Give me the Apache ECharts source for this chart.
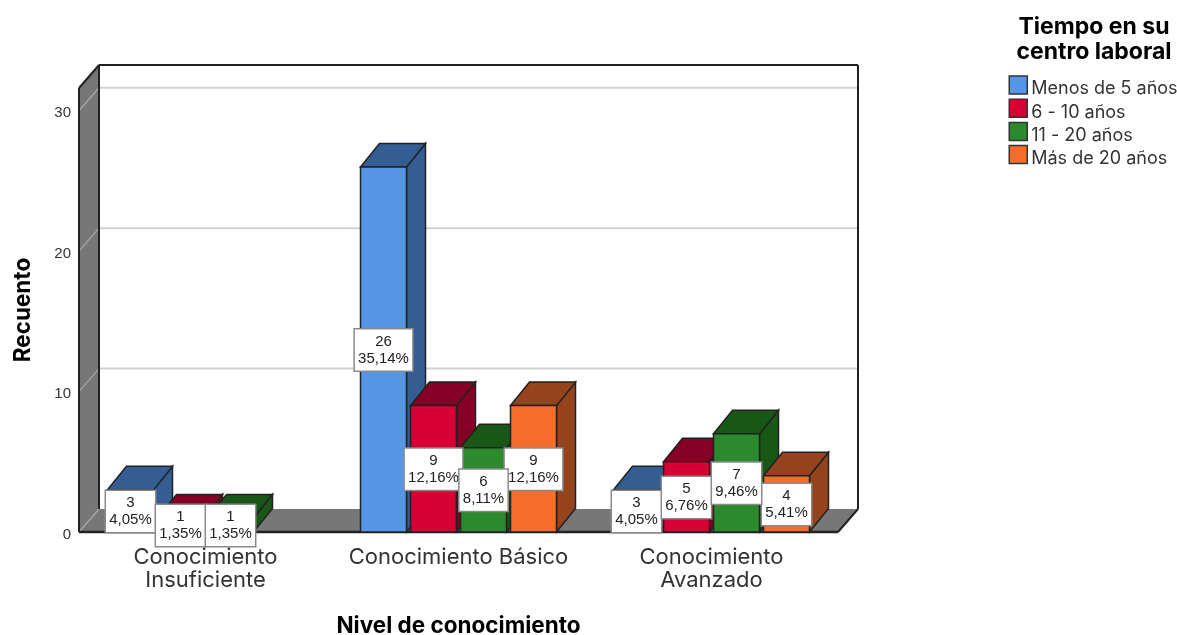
<!DOCTYPE html>
<html><head><meta charset="utf-8">
<style>html,body{margin:0;padding:0;background:#fff}#c{width:1177px;height:635px}</style>
<script src="https://cdn.jsdelivr.net/npm/echarts@6/dist/echarts.min.js"></script>
</head><body><div id="c"></div>
<script>
const categories = ['Conocimiento\nInsuficiente', 'Conocimiento Básico', 'Conocimiento\nAvanzado'];
const groupNames = ['Menos de 5 años', '6 - 10 años', '11 - 20 años', 'Más de 20 años'];
const menos5 = [3, 26, 3];
const de6a10 = [1, 9, 5];
const de11a20 = [1, 6, 7];
const mas20 = [null, 9, 4];
const pctMenos5 = ['4,05%', '35,14%', '4,05%'];
const pct6a10 = ['1,35%', '12,16%', '6,76%'];
const pct11a20 = ['1,35%', '8,11%', '9,46%'];
const pctMas20 = [null, '12,16%', '5,41%'];
const yTicks = [10, 20, 30];

const groupValues = [menos5, de6a10, de11a20, mas20];
const groupPct = [pctMenos5, pct6a10, pct11a20, pctMas20];
const frontColors = ['#5596E6', '#D60032', '#2A8A2D', '#F46D2A'];
const darkColors = ['#345D93', '#850024', '#195716', '#95431C'];
const labelOrder = [0, 1, 3, 2];
const font = 'Inter, "Liberation Sans", Arial, sans-serif';
const numFont = '"Liberation Sans", Arial, sans-serif';
const ink = '#222';
const wallDx = 20, wallDy = 23, barDx = 19, barDy = 23.5;
const stepFrac = 50 / 253, widthFrac = 46 / 253;

function barGeom(api, k) {
  const cat = api.value(0), val = api.value(1);
  const base = api.coord([cat, 0]), top = api.coord([cat, val]);
  const band = api.size([1, 0])[0];
  const step = band * stepFrac, w = band * widthFrac;
  const left = base[0] + (k - 2) * step + (step - w) / 2;
  return { left, right: left + w, bottom: base[1], top: top[1], mid: left + w / 2 };
}
function poly(points, fill, stroke, lw) {
  return { type: 'polygon', shape: { points }, style: { fill, stroke: stroke || ink, lineWidth: lw === undefined ? 1.5 : lw } };
}
function line(a, b, stroke, lw) {
  return { type: 'line', shape: { x1: a[0], y1: a[1], x2: b[0], y2: b[1] }, style: { stroke, lineWidth: lw } };
}
function renderWalls(params, api) {
  const cs = params.coordSys;
  const x0 = cs.x, x1 = cs.x + cs.width, yb = cs.y + cs.height, yt = cs.y;
  const ch = [];
  ch.push(poly([[x0 + wallDx, yt - wallDy], [x1 + wallDx, yt - wallDy], [x1 + wallDx, yb - wallDy], [x0 + wallDx, yb - wallDy]], '#fff', 'none', 0));
  ch.push(poly([[x0, yb], [x0 + wallDx, yb - wallDy], [x0 + wallDx, yt - wallDy], [x0, yt]], '#777', 'none', 0));
  ch.push(poly([[x0, yb], [x1, yb], [x1 + wallDx, yb - wallDy], [x0 + wallDx, yb - wallDy]], '#777', 'none', 0));
  [0].concat(yTicks).forEach(v => {
    const y = api.coord([0, v])[1];
    ch.push(line([x0, y], [x0 + wallDx, y - wallDy], '#a8a8a8', 1.2));
    if (v > 0) ch.push(line([x0 + wallDx, y - wallDy], [x1 + wallDx, y - wallDy], '#d2d2d2', 2));
  });
  ch.push(line([x0, yb], [x0, yt], ink, 2));
  ch.push(line([x0, yt], [x0 + wallDx, yt - wallDy], ink, 2));
  ch.push(line([x0 + wallDx, yt - wallDy], [x1 + wallDx, yt - wallDy], ink, 2));
  ch.push(line([x0 + wallDx, yt - wallDy], [x0 + wallDx, yb - wallDy], ink, 2));
  ch.push(line([x1 + wallDx, yt - wallDy], [x1 + wallDx, yb - wallDy], ink, 2));
  ch.push(line([x1 + wallDx, yb - wallDy], [x1, yb], ink, 2));
  ch.push(line([x0, yb], [x1, yb], ink, 2.4));
  return { type: 'group', children: ch };
}
function makeBar(k) {
  return function (params, api) {
    if (api.value(1) == null || isNaN(api.value(1))) return;
    const g = barGeom(api, k);
    return { type: 'group', children: [
      poly([[g.right, g.bottom], [g.right + barDx, g.bottom - barDy], [g.right + barDx, g.top - barDy], [g.right, g.top]], darkColors[k]),
      poly([[g.left, g.top], [g.right, g.top], [g.right + barDx, g.top - barDy], [g.left + barDx, g.top - barDy]], darkColors[k]),
      { type: 'rect', shape: { x: g.left, y: g.top, width: g.right - g.left, height: g.bottom - g.top }, style: { fill: frontColors[k], stroke: ink, lineWidth: 1.5 } }
    ] };
  };
}
function makeLabel(k) {
  return function (params, api) {
    if (api.value(1) == null || isNaN(api.value(1))) return;
    const g = barGeom(api, k);
    const cat = api.value(0);
    return { type: 'text', x: g.mid, y: (g.top + g.bottom) / 2 + 0.5, style: {
      text: groupValues[k][cat] + '\n' + groupPct[k][cat],
      align: 'center', verticalAlign: 'middle', fill: '#222', font: '15px ' + numFont, lineHeight: 17,
      backgroundColor: '#fff', borderColor: '#8a8a8a', borderWidth: 1.5, padding: [3.5, 3.2, 3.5, 3.2]
    } };
  };
}

const series = [{ type: 'custom', name: 'walls', z: 1, silent: true, renderItem: renderWalls, data: [[0, 0]], clip: false }];
groupNames.forEach((name, k) => series.push({
  type: 'custom', name, z: 2, clip: false, renderItem: makeBar(k),
  itemStyle: { color: frontColors[k] },
  data: groupValues[k].map((v, i) => [i, v])
}));
labelOrder.forEach(k => series.push({
  type: 'custom', name: 'label-' + k, z: 3, clip: false, renderItem: makeLabel(k),
  data: groupValues[k].map((v, i) => [i, v])
}));

echarts.init(document.getElementById('c'), null, { renderer: 'canvas' }).setOption({
  animation: false,
  backgroundColor: '#fff',
  textStyle: { fontFamily: font },
  grid: { left: 79, right: 339, top: 88, bottom: 103, outerBoundsMode: 'none' },
  title: { text: 'Tiempo en su\ncentro laboral', left: 1094, top: 15, textAlign: 'center', padding: 0,
    textStyle: { fontFamily: font, fontSize: 23, fontWeight: 'bold', color: '#000', lineHeight: 24.5 } },
  legend: { orient: 'vertical', left: 1008.5, top: 72, itemWidth: 18, itemHeight: 18, itemGap: -2.8, padding: 0,
    data: groupNames, selectedMode: false, icon: 'rect',
    formatter: name => '\n' + name,
    itemStyle: { borderColor: '#333', borderWidth: 1.5 },
    textStyle: { fontFamily: font, fontSize: 18, color: '#333', lineHeight: 8, padding: [0, 0, 0, -1] } },
  xAxis: { type: 'category', data: categories, name: 'Nivel de conocimiento', nameLocation: 'middle', nameGap: 83,
    nameTextStyle: { fontFamily: font, fontSize: 22.5, fontWeight: 'bold', color: '#000' },
    axisLine: { show: false }, axisTick: { show: false },
    axisLabel: { fontFamily: font, fontSize: 22, color: '#333', margin: 14, lineHeight: 23, interval: 0 } },
  yAxis: { type: 'value', min: 0, max: 31.62, interval: 10, name: 'Recuento', nameLocation: 'middle', nameGap: 44, nameRotate: 90,
    nameTextStyle: { fontFamily: font, fontSize: 22.5, fontWeight: 'bold', color: '#000' },
    axisLine: { show: false }, axisTick: { show: false }, splitLine: { show: false },
    axisLabel: { fontFamily: numFont, fontSize: 15, color: '#333', margin: 8, showMaxLabel: false, verticalAlign: 'top', lineHeight: 5 } },
  series
});
</script></body></html>
